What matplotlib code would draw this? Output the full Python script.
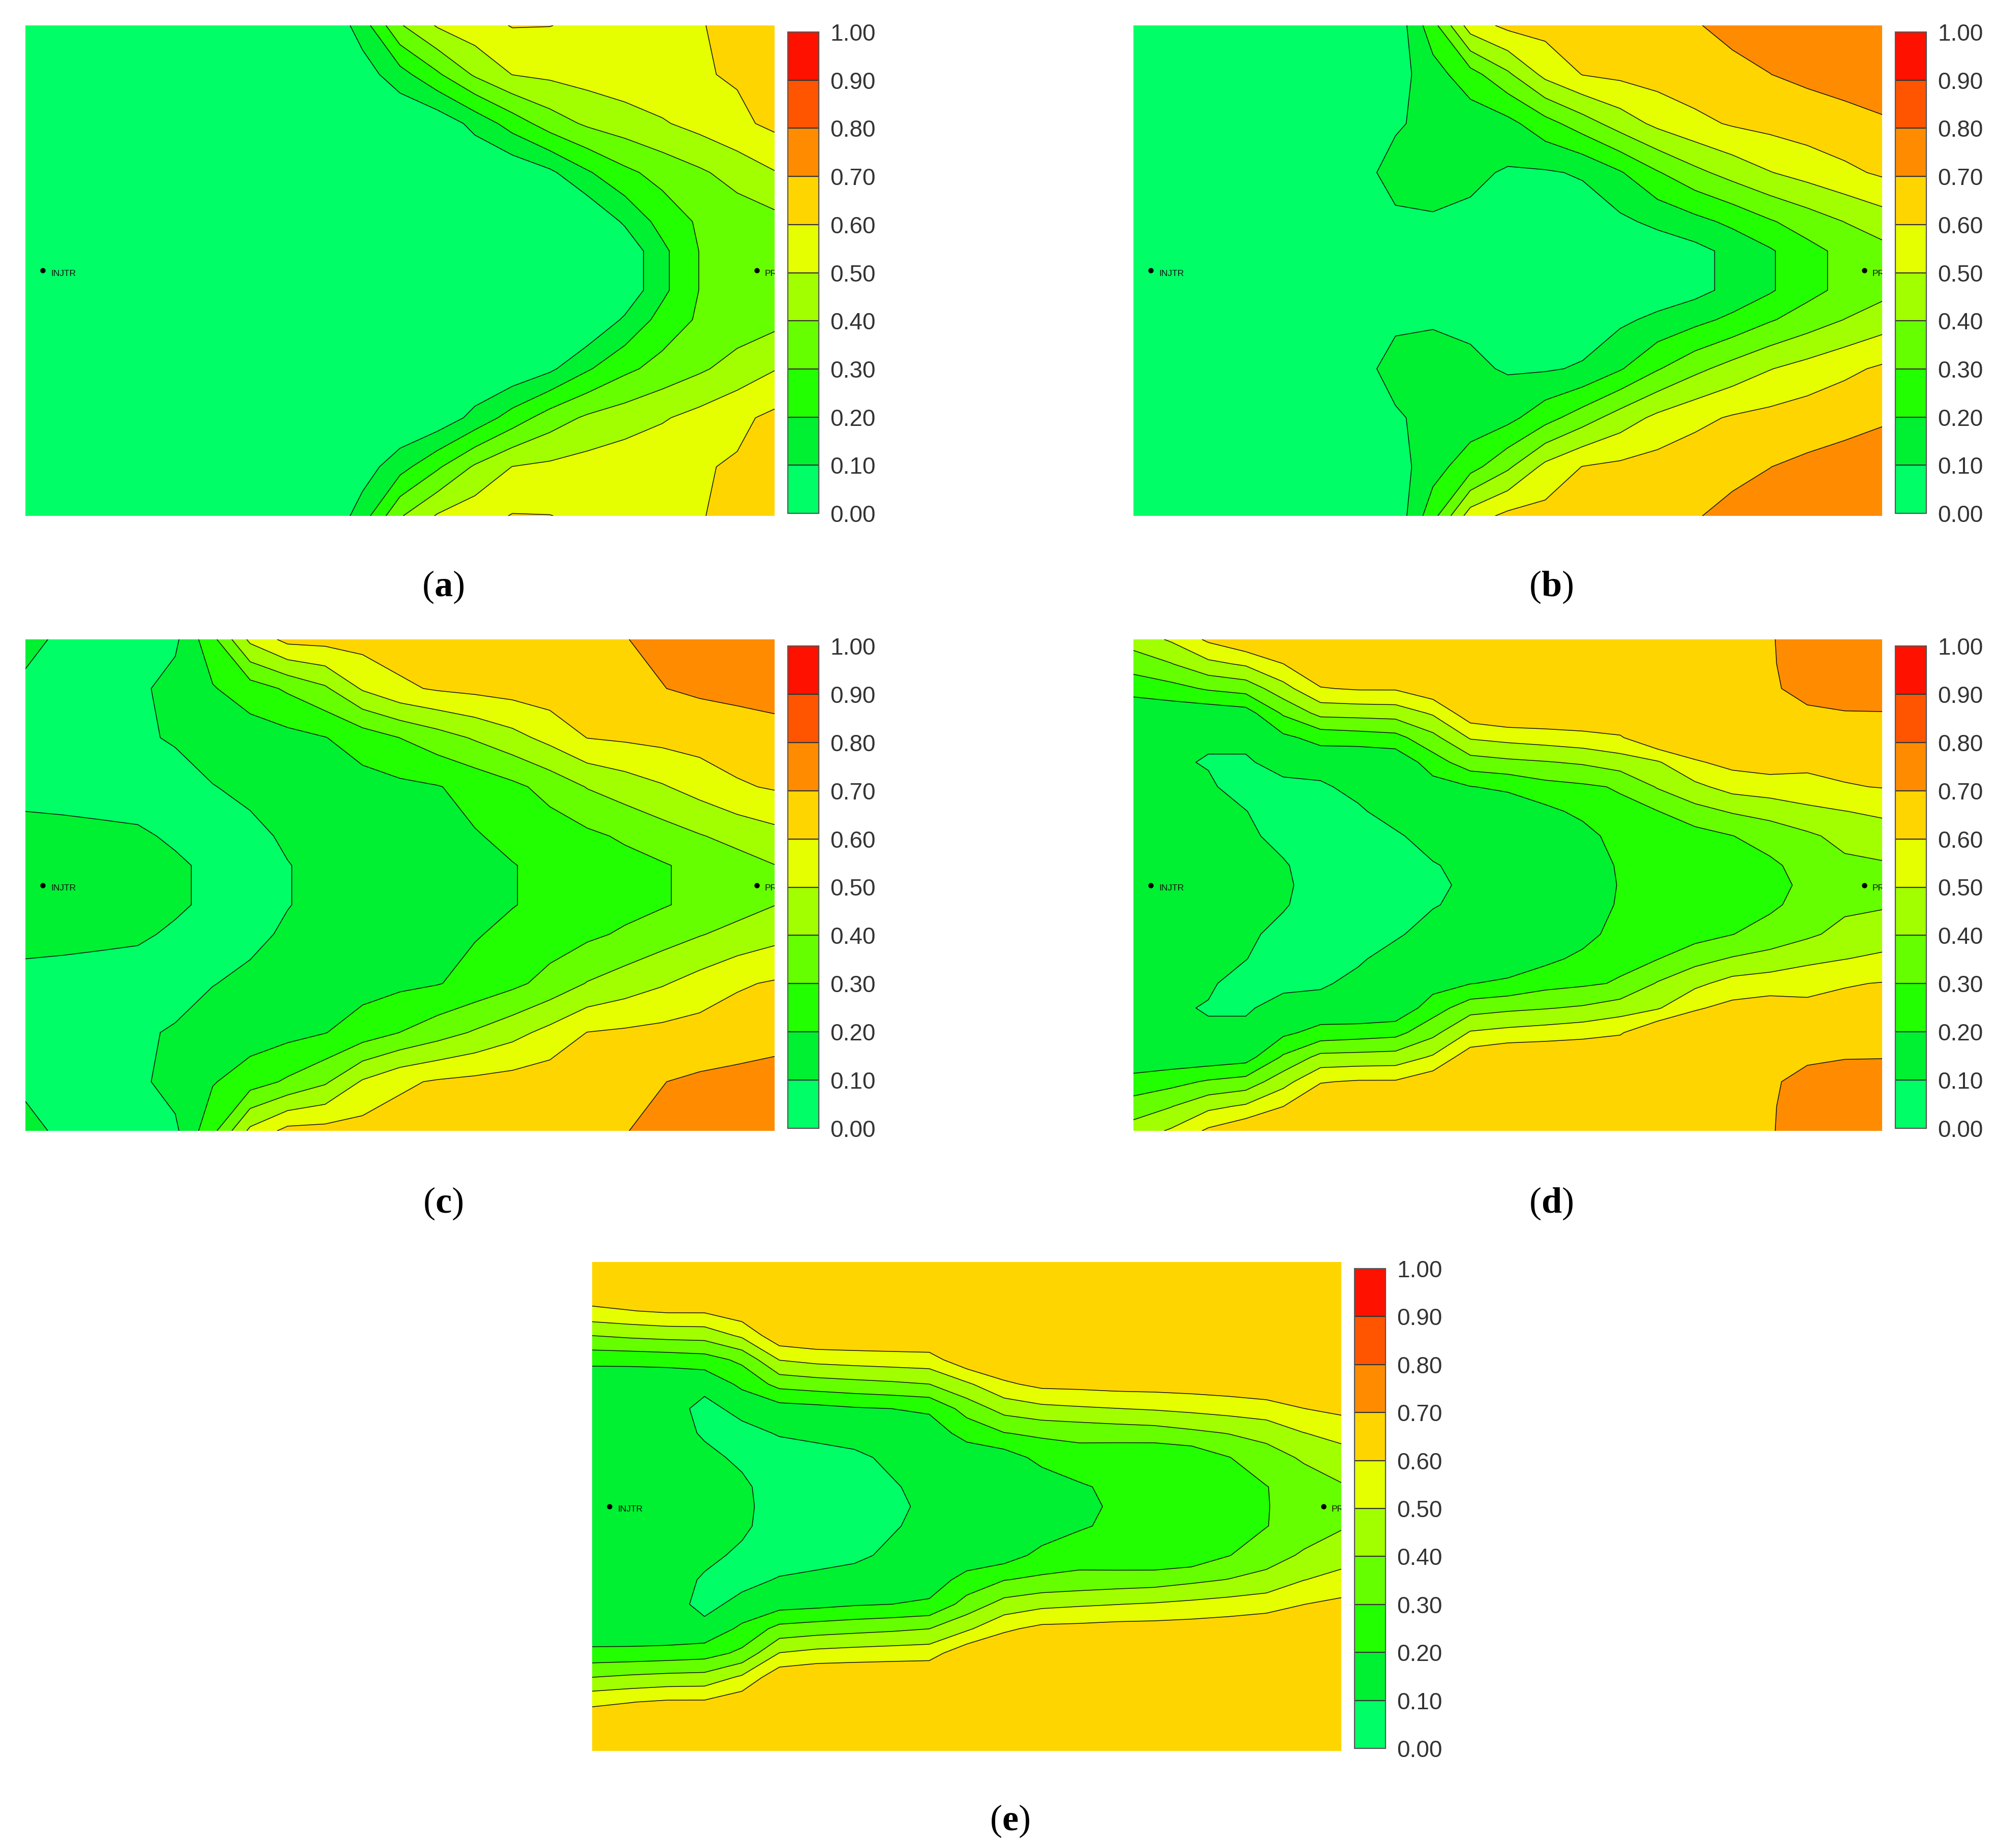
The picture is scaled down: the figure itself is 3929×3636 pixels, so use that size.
import numpy as np
import matplotlib
matplotlib.use('Agg')
import matplotlib.pyplot as plt
import matplotlib.transforms as mtransforms
from matplotlib.colors import ListedColormap, BoundaryNorm
from matplotlib.cm import ScalarMappable

plt.rcParams['font.family'] = ['Liberation Sans', 'DejaVu Sans']
plt.rcParams['mathtext.fontset'] = 'custom'
plt.rcParams['mathtext.rm'] = 'Liberation Serif'
plt.rcParams['mathtext.bf'] = 'Liberation Serif:bold'

# contour levels and band colours (0.0 - 1.0)
levels = [0.0, 0.1, 0.2, 0.3, 0.4, 0.5, 0.6, 0.7, 0.8, 0.9, 1.0]
band_colors = ['#00FF66', '#00F032', '#22FF00', '#66FF00', '#A2FF00',
               '#E5FF00', '#FFD500', '#FF8C00', '#FF5500', '#FF1100']

# grid nodes: x from injector (0) to producer (1), y from top edge (0) to centre line (0.5)
x_nodes = [0.0, 0.05, 0.1, 0.15, 0.2, 0.25, 0.3, 0.35, 0.4, 0.45, 0.5,
           0.55, 0.6, 0.65, 0.7, 0.75, 0.8, 0.85, 0.9, 0.95, 1.0]
rows_coarse = [0.0, 0.1, 0.2, 0.3, 0.4, 0.46, 0.5]
rows_fine = [0.0, 0.05, 0.1, 0.15, 0.2, 0.25, 0.3, 0.35, 0.4, 0.46, 0.5]

# upper half of each map (the maps are symmetric about the injector-producer line)
sat_a = [
    [0, 0, 0, 0, 0, 0, 0, 0, 0.0, 0.15, 0.39, 0.51, 0.56, 0.605, 0.602, 0.58, 0.575, 0.58, 0.597, 0.615, 0.635],
    [0, 0, 0, 0, 0, 0, 0, 0, 0.0, 0.05, 0.161, 0.285, 0.414, 0.502, 0.52, 0.54, 0.56, 0.575, 0.592, 0.61, 0.63],
    [0, 0, 0, 0, 0, 0, 0, 0, 0, 0, 0, 0.03, 0.131, 0.244, 0.349, 0.416, 0.453, 0.49, 0.533, 0.578, 0.623],
    [0, 0, 0, 0, 0, 0, 0, 0, 0, 0, 0, 0, 0, 0.02, 0.08, 0.188, 0.277, 0.336, 0.385, 0.439, 0.495],
    [0, 0, 0, 0, 0, 0, 0, 0, 0, 0, 0, 0, 0, 0, 0, 0, 0.115, 0.237, 0.315, 0.345, 0.37],
    [0, 0, 0, 0, 0, 0, 0, 0, 0, 0, 0, 0, 0, 0, 0, 0, 0.024, 0.176, 0.303, 0.33, 0.355],
    [0, 0, 0, 0, 0, 0, 0, 0, 0, 0, 0, 0, 0, 0, 0, 0, 0.024, 0.176, 0.303, 0.33, 0.35],
]

sat_b = [
    [0, 0, 0, 0, 0, 0, 0, 0.029, 0.263, 0.55, 0.625, 0.635, 0.645, 0.66, 0.675, 0.695, 0.72, 0.735, 0.75, 0.76, 0.77],
    [0, 0, 0, 0, 0, 0, 0, 0.057, 0.1565, 0.261, 0.3825, 0.527, 0.603, 0.622, 0.641, 0.66, 0.68, 0.699, 0.72, 0.735, 0.745],
    [0, 0, 0, 0, 0, 0, 0.04, 0.09, 0.125, 0.14, 0.17, 0.262, 0.353, 0.446, 0.524, 0.5745, 0.61, 0.63, 0.65, 0.67, 0.69],
    [0, 0, 0, 0, 0, 0, 0.07, 0.13, 0.14, 0.12, 0.09, 0.09, 0.11, 0.191, 0.292, 0.374, 0.4386, 0.496, 0.538, 0.578, 0.615],
    [0, 0, 0, 0, 0, 0, 0.05, 0.085, 0.09, 0.08, 0.05, 0.04, 0.05, 0.08, 0.1236, 0.17, 0.223, 0.29, 0.347, 0.402, 0.45],
    [0, 0, 0, 0, 0, 0, 0, 0, 0, 0, 0, 0, 0, 0, 0.04, 0.069, 0.128, 0.188, 0.268, 0.327, 0.37],
    [0, 0, 0, 0, 0, 0, 0, 0, 0, 0, 0, 0, 0, 0, 0.04, 0.069, 0.128, 0.188, 0.268, 0.327, 0.36],
]

sat_c = [
    [0.115, 0.09, 0.06, 0.06, 0.081, 0.272, 0.523, 0.63, 0.635, 0.64, 0.65, 0.655, 0.665, 0.675, 0.685, 0.69, 0.698, 0.715, 0.73, 0.74, 0.75],
    [0.09, 0.06, 0.04, 0.08, 0.136, 0.1925, 0.253, 0.315, 0.385, 0.511, 0.582, 0.611, 0.626, 0.64, 0.655, 0.67, 0.685, 0.698, 0.715, 0.725, 0.735],
    [0.05, 0.05, 0.05, 0.085, 0.11, 0.13, 0.15, 0.17, 0.197, 0.247, 0.301, 0.356, 0.411, 0.467, 0.531, 0.602, 0.615, 0.628, 0.641, 0.654, 0.667],
    [0.07, 0.06, 0.05, 0.05, 0.06, 0.098, 0.114, 0.13, 0.146, 0.163, 0.179, 0.195, 0.231, 0.276, 0.334, 0.405, 0.448, 0.491, 0.539, 0.588, 0.61],
    [0.13, 0.13, 0.125, 0.115, 0.085, 0.06, 0.085, 0.109, 0.126, 0.143, 0.16, 0.177, 0.194, 0.22, 0.25, 0.28, 0.314, 0.354, 0.394, 0.431, 0.467],
    [0.14, 0.14, 0.14, 0.14, 0.115, 0.08, 0.07, 0.098, 0.116, 0.132, 0.148, 0.164, 0.18, 0.197, 0.219, 0.244, 0.268, 0.292, 0.325, 0.361, 0.398],
    [0.14, 0.14, 0.14, 0.14, 0.115, 0.08, 0.07, 0.098, 0.116, 0.132, 0.148, 0.164, 0.18, 0.197, 0.219, 0.244, 0.268, 0.292, 0.325, 0.361, 0.39],
]

sat_d = [
    [0.445, 0.512, 0.618, 0.686, 0.69, 0.69, 0.69, 0.69, 0.69, 0.69, 0.69, 0.69, 0.69, 0.69, 0.69, 0.69, 0.69, 0.69, 0.76, 0.77, 0.78],
    [0.345, 0.395, 0.475, 0.514, 0.599, 0.69, 0.69, 0.69, 0.69, 0.69, 0.69, 0.69, 0.69, 0.69, 0.69, 0.69, 0.69, 0.69, 0.745, 0.76, 0.77],
    [0.238, 0.266, 0.312, 0.339, 0.4625, 0.594, 0.61, 0.61, 0.669, 0.69, 0.69, 0.69, 0.69, 0.69, 0.69, 0.69, 0.69, 0.69, 0.722, 0.73, 0.73],
    [0.127, 0.134, 0.136, 0.157, 0.314, 0.43, 0.436, 0.443, 0.5125, 0.661, 0.695, 0.695, 0.695, 0.695, 0.69, 0.69, 0.69, 0.69, 0.689, 0.697, 0.698],
    [0.11, 0.11, 0.11, 0.12, 0.178, 0.234, 0.25, 0.267, 0.371, 0.509, 0.531, 0.547, 0.565, 0.589, 0.695, 0.695, 0.69, 0.69, 0.655, 0.664, 0.667],
    [0.11, 0.11, 0.095, 0.09, 0.13, 0.13, 0.11, 0.12, 0.253, 0.357, 0.379, 0.394, 0.4125, 0.451, 0.49, 0.588, 0.63, 0.645, 0.622, 0.63, 0.635],
    [0.12, 0.12, 0.11, 0.07, 0.08, 0.09, 0.12, 0.14, 0.158, 0.197, 0.217, 0.265, 0.284, 0.309, 0.408, 0.476, 0.537, 0.5545, 0.571, 0.593, 0.604],
    [0.13, 0.13, 0.12, 0.102, 0.06, 0.06, 0.09, 0.13, 0.14, 0.15, 0.14, 0.175, 0.224, 0.277, 0.297, 0.365, 0.409, 0.435, 0.474, 0.498, 0.519],
    [0.14, 0.14, 0.13, 0.12, 0.07, 0.05, 0.06, 0.09, 0.13, 0.13, 0.13, 0.14, 0.164, 0.24, 0.27, 0.26, 0.298, 0.343, 0.383, 0.429, 0.45],
    [0.14, 0.14, 0.14, 0.13, 0.11, 0.05, 0.05, 0.05, 0.095, 0.12, 0.13, 0.14, 0.15, 0.21, 0.24, 0.25, 0.275, 0.28, 0.339, 0.38, 0.39],
    [0.14, 0.14, 0.14, 0.13, 0.12, 0.05, 0.05, 0.05, 0.085, 0.115, 0.13, 0.14, 0.15, 0.205, 0.225, 0.245, 0.265, 0.285, 0.31, 0.35, 0.38],
]

sat_e = [
    [0.69, 0.69, 0.69, 0.69, 0.69, 0.69, 0.69, 0.69, 0.69, 0.69, 0.69, 0.69, 0.69, 0.69, 0.69, 0.69, 0.69, 0.69, 0.69, 0.69, 0.69],
    [0.69, 0.69, 0.67, 0.67, 0.68, 0.68, 0.69, 0.69, 0.69, 0.69, 0.69, 0.69, 0.69, 0.69, 0.69, 0.69, 0.69, 0.69, 0.69, 0.69, 0.69],
    [0.578, 0.597, 0.614, 0.614, 0.664, 0.675, 0.69, 0.69, 0.69, 0.69, 0.69, 0.69, 0.69, 0.69, 0.69, 0.69, 0.69, 0.69, 0.69, 0.69, 0.69],
    [0.402, 0.42, 0.433, 0.439, 0.519, 0.673, 0.695, 0.695, 0.695, 0.695, 0.69, 0.69, 0.69, 0.69, 0.69, 0.69, 0.69, 0.69, 0.69, 0.69, 0.69],
    [0.232, 0.234, 0.242, 0.256, 0.322, 0.503, 0.53, 0.542, 0.551, 0.558, 0.669, 0.695, 0.69, 0.69, 0.69, 0.69, 0.69, 0.69, 0.69, 0.69, 0.69],
    [0.11, 0.11, 0.11, 0.12, 0.223, 0.332, 0.352, 0.367, 0.381, 0.399, 0.483, 0.582, 0.626, 0.631, 0.641, 0.643, 0.649, 0.659, 0.671, 0.68, 0.68],
    [0.13, 0.13, 0.13, 0.08, 0.12, 0.158, 0.171, 0.19, 0.2, 0.215, 0.339, 0.437, 0.473, 0.487, 0.498, 0.509, 0.524, 0.54, 0.559, 0.599, 0.625],
    [0.14, 0.14, 0.14, 0.09, 0.08, 0.105, 0.12, 0.14, 0.15, 0.15, 0.234, 0.297, 0.318, 0.33, 0.342, 0.351, 0.378, 0.404, 0.431, 0.498, 0.532],
    [0.145, 0.145, 0.145, 0.12, 0.085, 0.07, 0.07, 0.08, 0.12, 0.14, 0.141, 0.15, 0.231, 0.255, 0.235, 0.222, 0.23, 0.297, 0.358, 0.413, 0.459],
    [0.15, 0.15, 0.15, 0.13, 0.115, 0.06, 0.05, 0.06, 0.09, 0.13, 0.13, 0.14, 0.136, 0.189, 0.22, 0.225, 0.24, 0.265, 0.297, 0.35, 0.39],
    [0.15, 0.15, 0.15, 0.13, 0.12, 0.06, 0.05, 0.06, 0.08, 0.12, 0.13, 0.14, 0.135, 0.18, 0.212, 0.225, 0.245, 0.27, 0.296, 0.34, 0.38],
]

well_names = ['INJTR', 'PR']
well_x = [0.023, 0.976]
well_y = [0.5, 0.5]

panel_labels = ['a', 'b', 'c', 'd', 'e']


def mirror_field(rows, values):
    """Rebuild the full map from its upper half."""
    v = np.array(rows, dtype=float)
    z = np.array(values, dtype=float)
    y_full = np.concatenate([v, 1.0 - v[-2::-1]])
    z_full = np.vstack([z, z[-2::-1]])
    return y_full, z_full


cmap = ListedColormap(band_colors)
norm = BoundaryNorm(levels, cmap.N)

fig = plt.figure(figsize=(39.29, 36.36), dpi=100)
W, H = 3929.0, 3636.0


def px_rect(x0, y0, x1, y1):
    return [x0 / W, 1 - y1 / H, (x1 - x0) / W, (y1 - y0) / H]


def draw_panel(plot_box, cbar_box, label_pos, rows, values, label):
    ax = fig.add_axes(px_rect(*plot_box))
    y_full, z_full = mirror_field(rows, values)
    ax.contourf(x_nodes, y_full, z_full, levels=levels, colors=band_colors)
    ax.contour(x_nodes, y_full, z_full, levels=levels[1:-1], colors='#111111',
               linewidths=1.1)
    ax.set_xlim(0, 1)
    ax.set_ylim(1, 0)
    ax.axis('off')

    # wells
    ax.plot(well_x, well_y, 'o', color='black', ms=6.5, zorder=5)
    for name, wx, wy in zip(well_names, well_x, well_y):
        tr = mtransforms.offset_copy(ax.transData, fig=fig, x=16, y=-6, units='dots')
        ax.text(wx, wy, name, transform=tr, fontsize=12.5, color='#111111',
                ha='left', va='center', clip_on=True)

    cax = fig.add_axes(px_rect(*cbar_box))
    cb = fig.colorbar(ScalarMappable(norm=norm, cmap=cmap), cax=cax,
                      ticks=levels, drawedges=True)
    cb.ax.yaxis.set_major_formatter('{x:.2f}')
    cb.ax.tick_params(length=0, labelsize=33, pad=16, colors='#333333')
    cb.outline.set_edgecolor('#555555')
    cb.outline.set_linewidth(1.6)
    cb.dividers.set_color('#333333')
    cb.dividers.set_linewidth(1.6)

    fig.text(label_pos[0] / W, 1 - label_pos[1] / H, r'($\mathbf{%s}$)' % label,
             ha='center', va='center', fontsize=52, family='Liberation Serif')


draw_panel((50, 50, 1524, 1015), (1550, 63, 1611, 1010), (872, 1155), rows_coarse, sat_a, panel_labels[0])
draw_panel((2230, 50, 3703, 1015), (3729, 63, 3790, 1010), (3052, 1155), rows_coarse, sat_b, panel_labels[1])
draw_panel((50, 1258, 1524, 2225), (1550, 1271, 1611, 2220), (872, 2368), rows_coarse, sat_c, panel_labels[2])
draw_panel((2230, 1258, 3703, 2225), (3729, 1271, 3790, 2220), (3052, 2368), rows_fine, sat_d, panel_labels[3])
draw_panel((1165, 2483, 2639, 3445), (2665, 2496, 2726, 3440), (1987, 3583), rows_fine, sat_e, panel_labels[4])

fig.savefig('out.png', dpi=100, facecolor='white')
